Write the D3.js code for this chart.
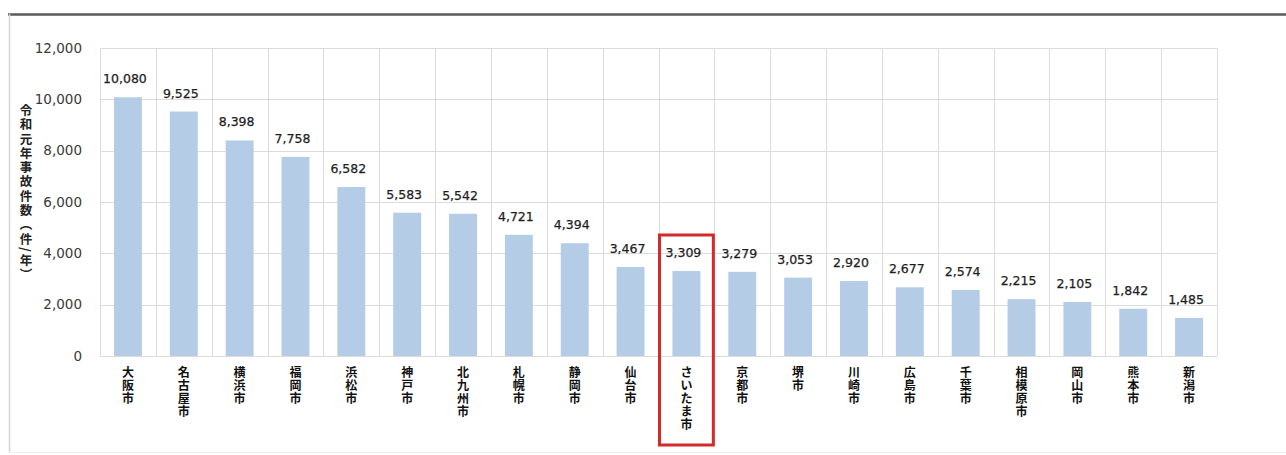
<!DOCTYPE html>
<html lang="ja">
<head>
<meta charset="utf-8">
<script src="https://cdn.jsdelivr.net/npm/d3@7"></script>
<style>
  html, body { margin: 0; padding: 0; background: #fff; }
  svg { display: block; }
</style>
</head>
<body>
<svg id="chart" width="1286" height="455"></svg>
<script>
// 政令指定都市別 令和元年の事故件数（件/年）
const cities = ["大阪市", "名古屋市", "横浜市", "福岡市", "浜松市", "神戸市", "北九州市", "札幌市", "静岡市", "仙台市",
                "さいたま市", "京都市", "堺市", "川崎市", "広島市", "千葉市", "相模原市", "岡山市", "熊本市", "新潟市"];
const accidents = [10080, 9525, 8398, 7758, 6582, 5583, 5542, 4721, 4394, 3467,
                   3309, 3279, 3053, 2920, 2677, 2574, 2215, 2105, 1842, 1485];
const yTicks = [0, 2000, 4000, 6000, 8000, 10000, 12000];
const highlightCity = "さいたま市";
const yTitle = "令和元年事故件数（件/年）";

const svg = d3.select("#chart");
const W = 1286, H = 455;
const plot = { left: 100, right: 1217, top: 48, bottom: 356 };

// outer frame
svg.append("line").attr("x1", 8).attr("x2", W).attr("y1", 14.5).attr("y2", 14.5)
  .attr("stroke", "#5a5a5a").attr("stroke-width", 2.5);
svg.append("line").attr("x1", 9.5).attr("x2", 9.5).attr("y1", 14).attr("y2", 452)
  .attr("stroke", "#d4d4d4").attr("stroke-width", 1.5);
svg.append("line").attr("x1", 9).attr("x2", W).attr("y1", 452.5).attr("y2", 452.5)
  .attr("stroke", "#efefef").attr("stroke-width", 1);

const x = d3.scaleBand().domain(cities).range([plot.left, plot.right]).paddingInner(0).paddingOuter(0);
const y = d3.scaleLinear().domain([0, 12000]).range([plot.bottom, plot.top]);

// horizontal gridlines
svg.append("g").selectAll("line").data(yTicks).join("line")
  .attr("x1", plot.left).attr("x2", plot.right)
  .attr("y1", d => Math.round(y(d)) + 0.5).attr("y2", d => Math.round(y(d)) + 0.5)
  .attr("stroke", "#dcdcdc").attr("stroke-width", 1);

// vertical category separators
const seps = cities.map(c => x(c)).concat([x(cities[cities.length - 1]) + x.bandwidth()]);
svg.append("g").selectAll("line").data(seps).join("line")
  .attr("x1", d => Math.round(d) + 0.5).attr("x2", d => Math.round(d) + 0.5)
  .attr("y1", plot.top).attr("y2", plot.bottom)
  .attr("stroke", "#dcdcdc").attr("stroke-width", 1);

// y axis tick labels
const yAxis = d3.axisLeft(y).tickValues(yTicks).tickFormat(d3.format(",")).tickSize(0).tickPadding(18);
const gy = svg.append("g").attr("transform", `translate(${plot.left},0)`).call(yAxis);
gy.select(".domain").remove();
gy.selectAll("text")
  .attr("font-family", "'DejaVu Sans', Verdana, sans-serif")
  .attr("font-size", 13.5).attr("fill", "#3a3a3a");

// bars
const barW = x.bandwidth() * 0.5;
svg.append("g").selectAll("rect").data(accidents).join("rect")
  .attr("x", (d, i) => x(cities[i]) + (x.bandwidth() - barW) / 2)
  .attr("width", barW)
  .attr("y", d => y(d))
  .attr("height", d => y(0) - y(d))
  .attr("fill", "#b4cce6");

// value labels
svg.append("g").selectAll("text").data(accidents).join("text")
  .attr("x", (d, i) => x(cities[i]) + x.bandwidth() / 2 - 3)
  .attr("y", d => y(d) - 14)
  .attr("text-anchor", "middle")
  .attr("font-family", "'DejaVu Sans', Verdana, sans-serif")
  .attr("font-size", 12.5).attr("fill", "#1e1e1e").attr("stroke", "#1e1e1e").attr("stroke-width", 0.25)
  .text(d => d3.format(",")(d));

// category labels, one character per line
const charStep = 13;
const xl = svg.append("g").selectAll("text").data(cities).join("text")
  .attr("text-anchor", "middle")
  .attr("font-family", "'Noto Sans CJK JP', sans-serif")
  .attr("font-size", 12).attr("font-weight", 700).attr("fill", "#111");
xl.each(function(c) {
  const t = d3.select(this);
  const cx = x(c) + x.bandwidth() / 2;
  Array.from(c).forEach((ch, k) => {
    t.append("tspan").attr("x", cx).attr("y", 377 + k * charStep).text(ch);
  });
});

// y axis title, vertical
svg.append("text")
  .attr("x", 26).attr("y", 104)
  .style("writing-mode", "vertical-rl")
  .attr("font-family", "'Noto Sans CJK JP', sans-serif")
  .attr("font-size", 12.5).attr("font-weight", 700).attr("fill", "#222")
  .attr("letter-spacing", 1.8)
  .text(yTitle);

// highlight box around the selected city
const hx = x(highlightCity);
svg.append("rect")
  .attr("x", hx + 1).attr("y", 235)
  .attr("width", x.bandwidth() - 2).attr("height", 210)
  .attr("fill", "none").attr("stroke", "#d42a2a").attr("stroke-width", 3);
</script>
</body>
</html>
